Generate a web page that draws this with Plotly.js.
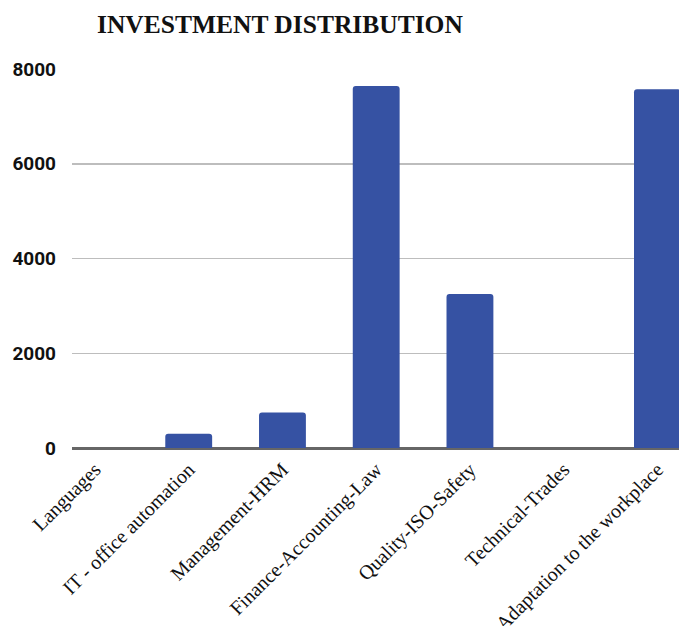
<!DOCTYPE html>
<html>
<head>
<meta charset="utf-8">
<script src="https://cdn.plot.ly/plotly-3.0.1.min.js"></script>
<style>html,body{margin:0;padding:0;overflow:hidden;background:#fff}</style>
</head>
<body>
<div id="chart" style="width:679px;height:626px"></div>
<script>
const categories = ["Languages", "IT - office automation", "Management-HRM", "Finance-Accounting-Law", "Quality-ISO-Safety", "Technical-Trades", "Adaptation to the workplace"];
const values = [0, 300, 750, 7640, 3250, 0, 7570];
const yTicks = [0, 2000, 4000, 6000, 8000];

Plotly.newPlot("chart", [{
  type: "bar",
  x: categories,
  y: values,
  width: 0.5,
  marker: {color: "#3652a3", cornerradius: 3, line: {width: 0}},
  hoverinfo: "x+y"
}], {
  width: 679, height: 626,
  margin: {l: 72, r: 0, t: 69, b: 178},
  paper_bgcolor: "#fff", plot_bgcolor: "#fff",
  showlegend: false,
  title: {
    text: "<b>INVESTMENT DISTRIBUTION</b>",
    font: {family: "Liberation Serif, serif", size: 25.5, color: "#111"},
    x: 97/679, xanchor: "left", xref: "container",
    y: 1 - 24/626, yanchor: "middle", yref: "container"
  },
  xaxis: {
    range: [-0.245, 6.23],
    tickangle: -45,
    tickfont: {family: "Liberation Serif, serif", size: 20, color: "#111"},
    showgrid: false,
    showline: true, linecolor: "#666", linewidth: 2,
    ticks: "", automargin: false
  },
  yaxis: {
    range: [0, 8000],
    tickvals: yTicks,
    ticktext: yTicks.map(String),
    tickfont: {family: "Roboto, sans-serif", size: 19, color: "#111", weight: "bold"},
    showgrid: true, gridcolor: "#bdbdbd", gridwidth: 1.5,
    zeroline: true, zerolinecolor: "#666", zerolinewidth: 2,
    ticks: "", ticklabelstandoff: 15, automargin: false
  }
}, {displayModeBar: false, staticPlot: true});
</script>
</body>
</html>
